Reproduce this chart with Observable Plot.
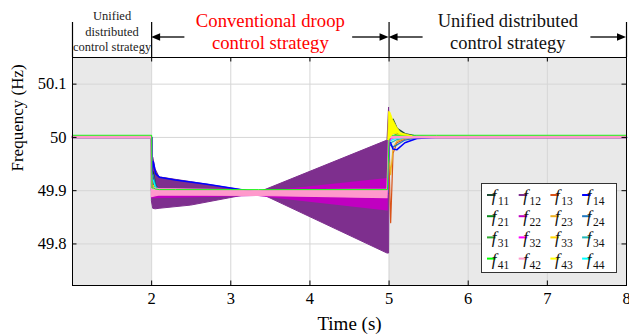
<!DOCTYPE html>
<html><head><meta charset="utf-8">
<script src="https://cdn.jsdelivr.net/npm/d3@7"></script>
<script src="https://cdn.jsdelivr.net/npm/@observablehq/plot@0.6"></script>
<style>
html,body{margin:0;padding:0;background:#fff;}
#wrap{width:629px;height:336px;}
</style></head>
<body><div id="wrap"></div>
<script>
// ---------- scales / ticks ----------
const xDomain = [1, 8];
const yDomain = [49.722, 50.15];
const xTicks = [2, 3, 4, 5, 6, 7, 8];
const yTicks = [49.8, 49.9, 50, 50.1];
const shadedSpans = [[1, 2], [5, 8]];
const phaseBounds = [1, 2, 5, 8];
const headerArrows = [[2.42, 2], [4.54, 5], [5.43, 5], [7.55, 8]];

// ---------- line series (sampled at T) ----------
const T   = [1, 2, 2.003, 2.02, 2.05, 2.1, 2.3, 2.7, 3.35, 4.0, 4.98, 5.0, 5.02, 5.05, 5.1, 5.2, 5.35, 5.6, 8];
const f11 = [50, 50, 49.93, 49.935, 49.91, 49.9, 49.898, 49.897, 49.895, 49.895, 49.895, 49.99, 50.03, 50.034, 50.017, 50.007, 50.002, 50, 50];
const f13 = [50, 50, 49.92, 49.91, 49.9, 49.897, 49.896, 49.896, 49.895, 49.895, 49.895, 49.95, 49.84, 49.97, 49.99, 49.997, 50, 50, 50];
const f14 = [50, 50, 49.93, 49.955, 49.932, 49.925, 49.92, 49.912, 49.897, 49.895, 49.895, 49.99, 49.99, 49.978, 49.977, 49.99, 49.998, 50, 50];
const f21 = [50, 50, 49.92, 49.92, 49.9, 49.897, 49.896, 49.896, 49.895, 49.895, 49.895, 49.99, 50.01, 50.014, 50.008, 50.003, 50.001, 50, 50];
const f23 = [50, 50, 49.91, 49.905, 49.898, 49.896, 49.896, 49.895, 49.895, 49.895, 49.895, 49.97, 49.93, 49.98, 49.993, 49.998, 50, 50, 50];
const f24 = [50, 50, 49.93, 49.93, 49.91, 49.9, 49.898, 49.897, 49.895, 49.895, 49.895, 49.99, 49.985, 49.982, 49.986, 49.995, 49.999, 50, 50];
const f31 = [50, 50, 49.91, 49.91, 49.9, 49.897, 49.896, 49.896, 49.895, 49.895, 49.895, 49.995, 50.006, 50.008, 50.005, 50.002, 50, 50, 50];
const f32 = [50, 50, 49.9, 49.895, 49.893, 49.893, 49.893, 49.893, 49.893, 49.893, 49.893, 49.99, 49.997, 49.999, 50, 50, 50, 50, 50];
const f33 = [50, 50, 49.91, 49.91, 49.9, 49.897, 49.896, 49.896, 49.895, 49.895, 49.895, 50.0, 50.022, 50.012, 50.006, 50.002, 50, 50, 50];
const f34 = [50, 50, 49.92, 49.92, 49.905, 49.9, 49.898, 49.897, 49.895, 49.895, 49.895, 49.99, 49.99, 49.992, 49.996, 49.999, 50, 50, 50];
const f44 = [50, 50, 49.92, 49.92, 49.905, 49.9, 49.898, 49.897, 49.895, 49.895, 49.895, 49.99, 49.994, 49.996, 49.998, 50, 50, 50, 50];
const f41 = [50.004, 50.004, 49.905, 49.905, 49.903, 49.902, 49.902, 49.902, 49.902, 49.902, 49.902, 50.0, 50.004, 50.004, 50.004, 50.004, 50.004, 50.004, 50.004];

// ---------- dense oscillating series as envelopes ----------
const tF12  = [1, 2, 2.003, 2.02, 2.05, 2.1, 2.5, 3.35, 4.98, 5.0, 5.008, 5.03, 8];
const f12Hi = [50, 50, 49.9, 49.962, 49.94, 49.925, 49.916, 49.896, 49.994, 50.056, 50.01, 50.0, 50];
const f12Lo = [50, 50, 49.88, 49.866, 49.865, 49.866, 49.872, 49.896, 49.782, 49.782, 49.99, 50.0, 50];

const tF22  = [2.003, 2.05, 3.35, 4.98, 4.99];
const f22Hi = [49.9, 49.897, 49.897, 49.923, 49.923];
const f22Lo = [49.885, 49.885, 49.889, 49.862, 49.862];

const tF42  = [1, 2, 2.003, 2.1, 3.35, 4.98, 5.0, 8];
const f42Hi = [50.002, 50.002, 49.905, 49.903, 49.9, 49.902, 50.002, 50.002];
const f42Lo = [49.998, 49.998, 49.888, 49.891, 49.89, 49.886, 49.998, 49.998];

const tF43  = [4.99, 5.0, 5.02, 5.05, 5.1, 5.15, 5.3];
const f43Hi = [49.995, 50.048, 50.046, 50.033, 50.019, 50.008, 50.002];
const f43Lo = [49.995, 49.995, 50.0, 50.005, 50.008, 50.004, 50.002];

// ---------- labels ----------
const seriesNames = ["f11","f12","f13","f14","f21","f22","f23","f24","f31","f32","f33","f34","f41","f42","f43","f44"];
const seriesColors = ["#1d4a35","#7e2f8e","#d95319","#0000ff","#0b8a1e","#c000c0","#edb120","#1f78c1","#33aa33","#ff00ff","#ffd700","#22b8b8","#00ff00","#ff99cc","#ffff00","#00ffff"];
const color = Object.fromEntries(seriesNames.map((n, i) => [n, seriesColors[i]]));
const xLabel = "Time (s)";
const yLabel = "Frequency (Hz)";
const phase1Lines = ["Unified", "distributed", "control strategy"];
const phase2Lines = ["Conventional droop", "control strategy"];
const phase3Lines = ["Unified distributed", "control strategy"];

// ---------- build rows ----------
const lineRows = (vals) => T.map((t, i) => ({t, v: vals[i]}));
const envRows = (ts, hi, lo) => ts.map((t, i) => ({t, hi: hi[i], lo: lo[i]}));

const W = 629, H = 336, mL = 72, mR = 3, mT = 57, mB = 51;
const frameW = W - mL - mR, frameH = H - mT - mB;

const lineMark = (vals, name, w = 1.2) =>
  Plot.line(lineRows(vals), {x: "t", y: "v", stroke: color[name], strokeWidth: w});

const hdr = (lines, x, dys, size, fill) =>
  lines.map((s, i) => Plot.text([s], {x: () => x, text: d => d, frameAnchor: "top", dy: dys[i], fontSize: size, fill, lineAnchor: "middle"}));

const plot = Plot.plot({
  width: W, height: H,
  marginLeft: mL, marginRight: mR, marginTop: mT, marginBottom: mB,
  style: {fontFamily: "'Liberation Serif', 'Times New Roman', serif", fontSize: "16.5px", background: "white", color: "black"},
  x: {domain: xDomain, ticks: xTicks, tickSize: 0, tickPadding: 7, label: null, tickFormat: d => String(d)},
  y: {domain: yDomain, ticks: yTicks, tickSize: 0, tickPadding: 6, label: null, tickFormat: d => String(d)},
  marks: [
    Plot.rect(shadedSpans, {x1: d => d[0], x2: d => d[1], fill: "#e9e9e9"}),
    Plot.ruleX(xTicks.slice(0, -1), {stroke: "#d6d6d6", strokeWidth: 1}),
    Plot.ruleY(yTicks, {stroke: "#d6d6d6", strokeWidth: 1}),
    Plot.areaY(envRows(tF12, f12Hi, f12Lo), {x: "t", y1: "lo", y2: "hi", fill: color.f12, stroke: color.f12, strokeWidth: 1}),
    lineMark(f11, "f11", 1.6),
    lineMark(f13, "f13"),
    lineMark(f21, "f21"),
    lineMark(f23, "f23"),
    lineMark(f24, "f24"),
    lineMark(f31, "f31"),
    lineMark(f33, "f33"),
    lineMark(f34, "f34"),
    lineMark(f44, "f44"),
    lineMark(f14, "f14", 1.5),
    lineMark(f32, "f32"),
    Plot.areaY(envRows(tF22, f22Hi, f22Lo), {x: "t", y1: "lo", y2: "hi", fill: color.f22}),
    Plot.areaY(envRows(tF42, f42Hi, f42Lo), {x: "t", y1: "lo", y2: "hi", fill: color.f42, stroke: color.f42, strokeWidth: 1.2}),
    lineMark(f41, "f41", 0.9),
    Plot.areaY(envRows(tF43, f43Hi, f43Lo), {x: "t", y1: "lo", y2: "hi", fill: color.f43, stroke: color.f43, strokeWidth: 0.8}),
    // inward ticks
    Plot.ruleY(yTicks, {insetRight: frameW - 4.5, stroke: "black"}),
    Plot.ruleY(yTicks, {insetLeft: frameW - 4.5, stroke: "black"}),
    Plot.ruleX(xTicks, {insetTop: frameH - 4.5, stroke: "black"}),
    Plot.ruleX(xTicks, {insetBottom: frameH - 4.5, stroke: "black"}),
    Plot.frame({stroke: "black", strokeWidth: 1}),
    // header separators
    Plot.ruleX(phaseBounds, {insetTop: -35, insetBottom: frameH, stroke: "black", strokeWidth: 1.2}),
    ...hdr(phase1Lines, 1.5, [-42, -26, -11], 12.5, "#222"),
    ...hdr(phase2Lines, 3.5, [-36, -14], 18.7, "#ff0000"),
    ...hdr(phase3Lines, 6.5, [-36, -14], 18.5, "#111"),
    // axis labels
    Plot.text([yLabel], {text: d => d, frameAnchor: "left", dx: -55, rotate: -90, fontSize: 17}),
    Plot.text([xLabel], {text: d => d, frameAnchor: "bottom", dy: 38, fontSize: 19, lineAnchor: "middle"})
  ]
});

document.getElementById("wrap").appendChild(plot);

// ---------- header arrows (positioned with Plot's x scale) ----------
const sx = plot.scale("x");
const svg = d3.select(plot);
const arrowY = 37;
const ga = svg.append("g");
headerArrows.forEach(([from, to]) => {
  const x0 = sx.apply(from), x1 = sx.apply(to);
  const dir = Math.sign(x1 - x0);
  ga.append("line").attr("x1", x0).attr("x2", x1 - dir * 8).attr("y1", arrowY).attr("y2", arrowY)
    .attr("stroke", "black").attr("stroke-width", 1.3);
  ga.append("path").attr("d", `M${x1},${arrowY}L${x1 - dir * 9},${arrowY - 3.8}L${x1 - dir * 9},${arrowY + 3.8}Z`).attr("fill", "black");
});

// ---------- legend ----------
const lg = svg.append("g").attr("font-family", "'Liberation Serif', 'Times New Roman', serif");
lg.append("rect").attr("x", 481.5).attr("y", 183.5).attr("width", 135).attr("height", 89)
  .attr("fill", "white").attr("stroke", "#333").attr("stroke-width", 1);
seriesNames.forEach((name, i) => {
  const r = Math.floor(i / 4), c = i % 4;
  const lx = 487 + c * 31.7, ly = 195 + r * 21.2;
  lg.append("line").attr("x1", lx).attr("x2", lx + 8.5).attr("y1", ly).attr("y2", ly)
    .attr("stroke", color[name]).attr("stroke-width", 2);
  const t = lg.append("text").attr("x", lx + 13.5).attr("y", ly + 6).attr("font-size", 17).attr("fill", "#111");
  t.append("tspan").attr("font-style", "italic").text("f");
  t.append("tspan").attr("font-size", 11.5).attr("dx", 1.5).attr("dy", 4).text(name.slice(1));
});
</script></body></html>
